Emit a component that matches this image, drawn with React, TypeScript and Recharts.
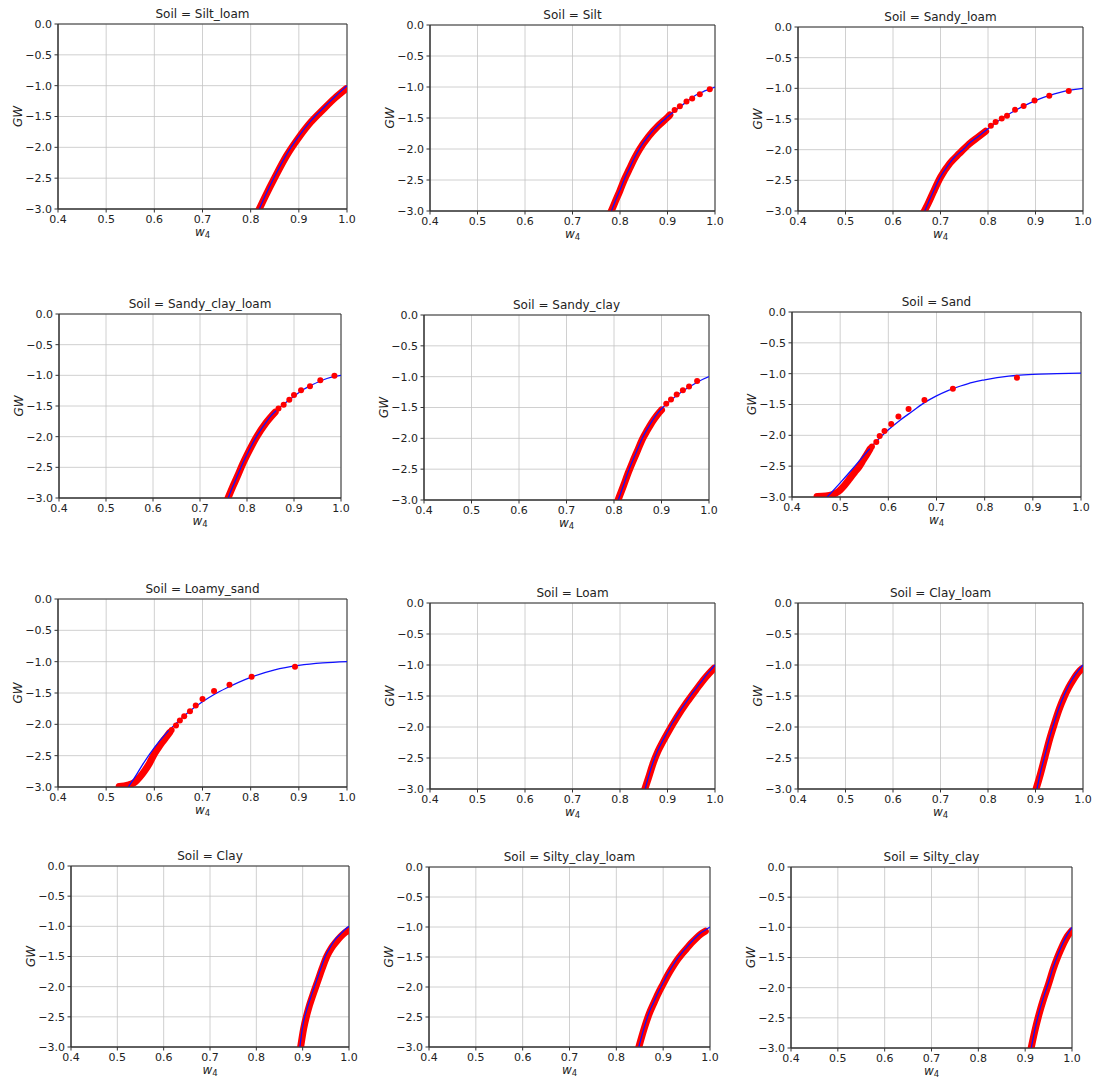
import React from "react";
import {
  ComposedChart,
  Line,
  Scatter,
  XAxis,
  YAxis,
  CartesianGrid,
  ReferenceArea,
} from "recharts";

// w4 / GW pairs, one set per soil
// fit = blue fitted curve, band = dense red cloud, dots = separate red points

const siltLoamFit = [[0.818, -3.0], [0.83, -2.79], [0.85, -2.47], [0.875, -2.11], [0.9, -1.82], [0.925, -1.57], [0.95, -1.37], [0.975, -1.18], [1.0, -1.0]];
const siltLoamBand = [[0.816, -3.03], [0.83, -2.8], [0.85, -2.49], [0.875, -2.13], [0.9, -1.84], [0.925, -1.59], [0.95, -1.39], [0.975, -1.2], [0.998, -1.05]];
const siltLoamDots = [];

const siltFit = [[0.782, -3.0], [0.79, -2.84], [0.8, -2.66], [0.81, -2.47], [0.82, -2.31], [0.83, -2.15], [0.84, -2.01], [0.85, -1.89], [0.86, -1.79], [0.87, -1.7], [0.88, -1.62], [0.89, -1.55], [0.9, -1.48], [0.92, -1.36], [0.94, -1.24], [0.96, -1.13], [0.98, -1.06], [1.0, -1.0]];
const siltBand = [[0.78, -3.03], [0.79, -2.85], [0.8, -2.67], [0.81, -2.48], [0.82, -2.32], [0.83, -2.16], [0.84, -2.02], [0.86, -1.8], [0.88, -1.63], [0.9, -1.49], [0.905, -1.45]];
const siltDots = [[0.915, -1.37], [0.926, -1.31], [0.94, -1.235], [0.952, -1.186], [0.968, -1.116], [0.989, -1.036]];

const sandyLoamFit = [[0.667, -3.0], [0.675, -2.85], [0.685, -2.68], [0.7, -2.44], [0.71, -2.32], [0.72, -2.21], [0.73, -2.12], [0.74, -2.05], [0.75, -1.98], [0.76, -1.9], [0.78, -1.78], [0.8, -1.66], [0.82, -1.54], [0.84, -1.44], [0.86, -1.35], [0.88, -1.27], [0.9, -1.2], [0.92, -1.14], [0.94, -1.09], [0.96, -1.05], [0.98, -1.02], [1.0, -1.0]];
const sandyLoamBand = [[0.664, -3.03], [0.675, -2.86], [0.685, -2.69], [0.7, -2.45], [0.72, -2.22], [0.74, -2.06], [0.76, -1.91], [0.78, -1.79], [0.795, -1.7]];
const sandyLoamDots = [[0.806, -1.61], [0.816, -1.55], [0.829, -1.49], [0.84, -1.445], [0.857, -1.35], [0.875, -1.29], [0.898, -1.2], [0.929, -1.12], [0.97, -1.045]];

const sandyClayLoamFit = [[0.76, -3.0], [0.77, -2.81], [0.78, -2.63], [0.79, -2.45], [0.8, -2.29], [0.81, -2.14], [0.82, -2.0], [0.83, -1.88], [0.84, -1.77], [0.85, -1.67], [0.86, -1.59], [0.87, -1.52], [0.88, -1.46], [0.9, -1.34], [0.92, -1.23], [0.94, -1.15], [0.96, -1.08], [0.98, -1.03], [1.0, -1.0]];
const sandyClayLoamBand = [[0.758, -3.03], [0.77, -2.81], [0.78, -2.64], [0.79, -2.46], [0.8, -2.3], [0.81, -2.15], [0.82, -2.01], [0.84, -1.78], [0.86, -1.6]];
const sandyClayLoamDots = [[0.867, -1.54], [0.878, -1.48], [0.89, -1.4], [0.9, -1.32], [0.915, -1.245], [0.934, -1.18], [0.956, -1.08], [0.986, -1.005]];

const sandyClayFit = [[0.809, -3.0], [0.82, -2.76], [0.83, -2.54], [0.84, -2.35], [0.85, -2.17], [0.86, -1.99], [0.87, -1.85], [0.88, -1.72], [0.89, -1.61], [0.9, -1.52], [0.91, -1.45], [0.92, -1.38], [0.94, -1.26], [0.96, -1.16], [0.98, -1.07], [1.0, -1.0]];
const sandyClayBand = [[0.807, -3.03], [0.82, -2.77], [0.83, -2.56], [0.84, -2.37], [0.85, -2.19], [0.86, -2.01], [0.87, -1.87], [0.88, -1.74], [0.89, -1.63], [0.9, -1.54]];
const sandyClayDots = [[0.91, -1.44], [0.92, -1.37], [0.932, -1.29], [0.945, -1.22], [0.958, -1.16], [0.975, -1.07]];

const sandFit = [[0.473, -3.0], [0.5, -2.77], [0.525, -2.55], [0.55, -2.32], [0.575, -2.1], [0.6, -1.91], [0.625, -1.75], [0.65, -1.61], [0.675, -1.47], [0.7, -1.36], [0.725, -1.27], [0.75, -1.2], [0.775, -1.14], [0.8, -1.1], [0.85, -1.04], [0.9, -1.01], [0.95, -1.0], [1.0, -0.99]];
const sandBand = [[0.452, -2.99], [0.47, -2.985], [0.485, -2.96], [0.498, -2.9], [0.51, -2.8], [0.52, -2.7], [0.53, -2.6], [0.54, -2.5], [0.548, -2.4], [0.556, -2.3], [0.562, -2.22]];
const sandDots = [[0.566, -2.18], [0.575, -2.11], [0.582, -2.01], [0.592, -1.93], [0.606, -1.815], [0.621, -1.696], [0.642, -1.572], [0.675, -1.427], [0.734, -1.244], [0.867, -1.066]];

const loamySandFit = [[0.546, -3.0], [0.56, -2.84], [0.575, -2.65], [0.6, -2.37], [0.625, -2.14], [0.65, -1.95], [0.675, -1.78], [0.7, -1.64], [0.725, -1.52], [0.75, -1.42], [0.8, -1.25], [0.85, -1.13], [0.9, -1.06], [0.95, -1.02], [1.0, -1.0]];
const loamySandBand = [[0.527, -2.99], [0.545, -2.97], [0.56, -2.92], [0.57, -2.84], [0.58, -2.74], [0.59, -2.62], [0.598, -2.5], [0.607, -2.39], [0.616, -2.29], [0.625, -2.2], [0.632, -2.13]];
const loamySandDots = [[0.636, -2.09], [0.645, -2.02], [0.653, -1.94], [0.662, -1.87], [0.674, -1.79], [0.686, -1.7], [0.7, -1.595], [0.724, -1.47], [0.756, -1.37], [0.802, -1.24], [0.892, -1.08]];

const loamFit = [[0.853, -3.0], [0.86, -2.8], [0.87, -2.56], [0.88, -2.37], [0.89, -2.22], [0.9, -2.08], [0.91, -1.94], [0.92, -1.82], [0.93, -1.7], [0.94, -1.59], [0.95, -1.48], [0.96, -1.38], [0.97, -1.28], [0.98, -1.18], [0.99, -1.09], [1.0, -1.0]];
const loamBand = [[0.851, -3.03], [0.86, -2.82], [0.87, -2.58], [0.88, -2.39], [0.89, -2.24], [0.9, -2.1], [0.92, -1.84], [0.94, -1.61], [0.96, -1.4], [0.98, -1.2], [0.998, -1.05]];
const loamDots = [];

const clayLoamFit = [[0.903, -3.0], [0.91, -2.75], [0.92, -2.45], [0.93, -2.16], [0.94, -1.91], [0.95, -1.68], [0.96, -1.49], [0.97, -1.33], [0.98, -1.2], [0.99, -1.09], [1.0, -1.0]];
const clayLoamBand = [[0.9, -3.03], [0.91, -2.77], [0.92, -2.48], [0.93, -2.19], [0.94, -1.94], [0.95, -1.71], [0.96, -1.52], [0.97, -1.36], [0.98, -1.23], [0.99, -1.12], [0.998, -1.06]];
const clayLoamDots = [];

const clayFit = [[0.894, -3.0], [0.9, -2.66], [0.91, -2.35], [0.92, -2.12], [0.93, -1.9], [0.94, -1.68], [0.95, -1.48], [0.96, -1.34], [0.97, -1.22], [0.98, -1.14], [0.99, -1.06], [1.0, -1.0]];
const clayBand = [[0.895, -3.03], [0.902, -2.7], [0.912, -2.38], [0.922, -2.14], [0.932, -1.92], [0.942, -1.7], [0.952, -1.5], [0.962, -1.36], [0.972, -1.26], [0.982, -1.17], [0.992, -1.1], [0.999, -1.06]];
const clayDots = [];

const siltyClayLoamFit = [[0.848, -3.0], [0.86, -2.66], [0.87, -2.42], [0.88, -2.25], [0.89, -2.08], [0.9, -1.93], [0.91, -1.78], [0.92, -1.65], [0.93, -1.53], [0.94, -1.43], [0.95, -1.34], [0.96, -1.25], [0.97, -1.17], [0.98, -1.1], [0.99, -1.05], [1.0, -1.0]];
const siltyClayLoamBand = [[0.847, -3.03], [0.86, -2.68], [0.87, -2.45], [0.88, -2.27], [0.89, -2.1], [0.9, -1.95], [0.91, -1.8], [0.92, -1.67], [0.93, -1.55], [0.94, -1.45], [0.95, -1.36], [0.96, -1.27], [0.97, -1.19], [0.98, -1.12], [0.99, -1.07]];
const siltyClayLoamDots = [];

const siltyClayFit = [[0.913, -3.0], [0.92, -2.72], [0.93, -2.4], [0.94, -2.14], [0.95, -1.91], [0.96, -1.66], [0.97, -1.45], [0.98, -1.27], [0.99, -1.12], [1.0, -1.0]];
const siltyClayBand = [[0.912, -3.03], [0.92, -2.74], [0.93, -2.43], [0.94, -2.17], [0.95, -1.94], [0.96, -1.69], [0.97, -1.48], [0.98, -1.3], [0.99, -1.15], [0.999, -1.06]];
const siltyClayDots = [];

const xTicks = [0.4, 0.5, 0.6, 0.7, 0.8, 0.9, 1.0];
const yTicks = [-3, -2.5, -2, -1.5, -1, -0.5, 0];

// plot-area box of every subplot (left, top, width, height in px)
const panels = [
  { soil: "Silt_loam", fit: siltLoamFit, band: siltLoamBand, dots: siltLoamDots, box: [58, 24, 289, 185] },
  { soil: "Silt", fit: siltFit, band: siltBand, dots: siltDots, box: [430, 25, 285, 186] },
  { soil: "Sandy_loam", fit: sandyLoamFit, band: sandyLoamBand, dots: sandyLoamDots, box: [798, 27, 285, 184] },
  { soil: "Sandy_clay_loam", fit: sandyClayLoamFit, band: sandyClayLoamBand, dots: sandyClayLoamDots, box: [59, 314, 282, 184] },
  { soil: "Sandy_clay", fit: sandyClayFit, band: sandyClayBand, dots: sandyClayDots, box: [424, 315, 285, 185] },
  { soil: "Sand", fit: sandFit, band: sandBand, dots: sandDots, box: [792, 312, 289, 185] },
  { soil: "Loamy_sand", fit: loamySandFit, band: loamySandBand, dots: loamySandDots, box: [58, 599, 289, 188] },
  { soil: "Loam", fit: loamFit, band: loamBand, dots: loamDots, box: [430, 603, 285, 186] },
  { soil: "Clay_loam", fit: clayLoamFit, band: clayLoamBand, dots: clayLoamDots, box: [798, 603, 285, 186] },
  { soil: "Clay", fit: clayFit, band: clayBand, dots: clayDots, box: [71, 866, 278, 181] },
  { soil: "Silty_clay_loam", fit: siltyClayLoamFit, band: siltyClayLoamBand, dots: siltyClayLoamDots, box: [429, 867, 281, 180] },
  { soil: "Silty_clay", fit: siltyClayFit, band: siltyClayBand, dots: siltyClayDots, box: [791, 867, 281, 181] },
];

const FONT = "'DejaVu Sans', sans-serif";
const TEXT = "#222";
const ML = 55;
const MR = 12;
const MT = 9;
const MB = 30;

const toPts = (arr) => arr.map(([w, gw]) => ({ w, gw }));

const fmtY = (v) => (v === 0 ? "0.0" : "\u2212" + Math.abs(v).toFixed(1));

const XLabel = ({ viewBox }) => (
  <text
    x={viewBox.x + viewBox.width / 2}
    y={viewBox.y + 27}
    textAnchor="middle"
    fontFamily={FONT}
    fontSize={12}
    fill={TEXT}
  >
    <tspan fontStyle="italic">w</tspan>
    <tspan fontSize={8.5} dy={2}>4</tspan>
  </text>
);

const YLabel = ({ viewBox }) => {
  const x = viewBox.x + viewBox.width - 40;
  const y = viewBox.y + viewBox.height / 2;
  return (
    <text
      x={x}
      y={y}
      transform={`rotate(-90, ${x}, ${y})`}
      textAnchor="middle"
      dominantBaseline="central"
      fontFamily={FONT}
      fontSize={12}
      fontStyle="italic"
      fill={TEXT}
    >
      GW
    </text>
  );
};

const Dot = (props) => <circle cx={props.cx} cy={props.cy} r={3} fill="#ff0000" />;

function Panel({ p }) {
  const [left, top, w, h] = p.box;
  const width = w + ML + MR;
  const height = h + MT + MB;
  return (
    <>
      <div
        style={{
          position: "absolute",
          left,
          top: top - 17,
          width: w,
          textAlign: "center",
          fontFamily: FONT,
          fontSize: 12,
          lineHeight: "14px",
          color: TEXT,
          whiteSpace: "nowrap",
        }}
      >
        Soil = {p.soil}
      </div>
      <div style={{ position: "absolute", left: left - ML, top: top - MT, width, height }}>
        <ComposedChart
          width={width}
          height={height}
          margin={{ top: MT, right: MR, left: 0, bottom: 0 }}
        >
          <CartesianGrid stroke="#c4c4c4" strokeWidth={0.8} />
          <XAxis
            type="number"
            dataKey="w"
            domain={[0.4, 1.0]}
            ticks={xTicks}
            interval={0}
            allowDataOverflow
            height={MB}
            tickSize={3.5}
            tickMargin={3}
            tickFormatter={(v) => v.toFixed(1)}
            tick={{ fontSize: 11, fill: TEXT, fontFamily: FONT }}
            axisLine={{ stroke: "#333" }}
            tickLine={{ stroke: "#333" }}
            label={{ content: XLabel }}
          />
          <YAxis
            type="number"
            dataKey="gw"
            domain={[-3, 0]}
            ticks={yTicks}
            interval={0}
            allowDataOverflow
            width={ML}
            tickSize={3.5}
            tickMargin={2.5}
            tickFormatter={fmtY}
            tick={{ fontSize: 11, fill: TEXT, fontFamily: FONT }}
            axisLine={{ stroke: "#333" }}
            tickLine={{ stroke: "#333" }}
            label={{ content: YLabel }}
          />
          <Line
            data={toPts(p.band)}
            dataKey="gw"
            type="monotone"
            stroke="#ff0000"
            strokeWidth={7}
            strokeLinecap="round"
            strokeLinejoin="round"
            dot={false}
            activeDot={false}
            isAnimationActive={false}
          />
          {p.dots.length > 0 && (
            <Scatter data={toPts(p.dots)} dataKey="gw" shape={Dot} isAnimationActive={false} />
          )}
          <Line
            data={toPts(p.fit)}
            dataKey="gw"
            type="monotone"
            stroke="#1010ff"
            strokeWidth={1.3}
            dot={false}
            activeDot={false}
            isAnimationActive={false}
          />
          <ReferenceArea x1={0.4} x2={1.0} y1={-3} y2={0} fill="none" stroke="#333" strokeWidth={1} />
        </ComposedChart>
      </div>
    </>
  );
}

export default function App() {
  return (
    <div
      style={{
        position: "absolute",
        left: 0,
        top: 0,
        width: 1093,
        height: 1077,
        background: "#fff",
      }}
    >
      {panels.map((p) => (
        <Panel key={p.soil} p={p} />
      ))}
    </div>
  );
}
